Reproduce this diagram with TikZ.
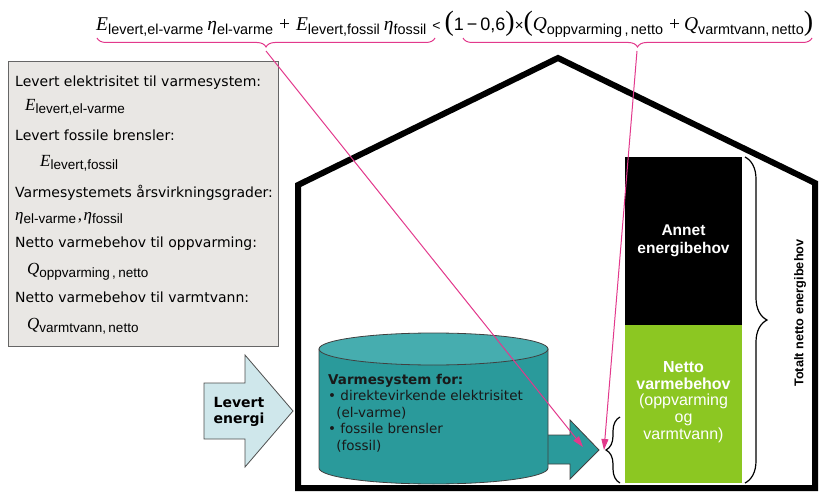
\documentclass[tikz,border=0pt]{standalone}
\usepackage{fontspec}
\setmainfont{Liberation Sans}
\newfontfamily\verd{DejaVu Sans}
\newfontfamily\tms{Liberation Serif}
\usetikzlibrary{arrows.meta,decorations.pathreplacing}
\definecolor{tealside}{HTML}{2A9A9B}
\definecolor{tealtop}{HTML}{46ADAF}
\definecolor{pinkc}{HTML}{E2398C}
\definecolor{greenbox}{HTML}{8CC722}
\definecolor{graybox}{HTML}{E9E7E4}
\definecolor{lightblue}{HTML}{CFE7EB}
\newcommand{\fsz}[2]{\fontsize{#1}{#2}\selectfont}
% formula pieces, top
\newcommand{\tE}{{\tms\itshape\fsz{19.5}{21}E}}
\newcommand{\tQ}{{\tms\itshape\fsz{19.5}{21}Q}}
\newcommand{\teta}{{\tms\itshape\fsz{19.5}{21}η}}
\newcommand{\tsb}[1]{\raisebox{-3.5pt}{\fsz{14.4}{16}#1}}
\newcommand{\gap}{\hspace{6pt}}
% formula pieces, box
\newcommand{\bE}{{\tms\itshape\fsz{17}{18}E}}
\newcommand{\bQ}{{\tms\itshape\fsz{17}{18}Q}}
\newcommand{\bEta}{{\tms\itshape\fsz{17}{18}η}}
\newcommand{\bsb}[1]{\raisebox{-3pt}{\fsz{13.5}{14}#1}}
\tikzset{
  boxtext/.style={anchor=base west, inner sep=0pt, font=\verd\fsz{14}{16}},
  symtext/.style={anchor=base west, inner sep=0pt},
  pinkarrow/.style={draw=pinkc, line width=1pt, -{Triangle[length=11pt,width=7pt]}},
  pinkbrace/.style={draw=pinkc, line width=1pt, decorate, decoration={brace, mirror, amplitude=9pt}},
  blackbrace/.style={draw=black, line width=1.2pt, decorate},
}
\begin{document}
\begin{tikzpicture}[x=1pt,y=-1pt]
\useasboundingbox (0,0) rectangle (819,492);
% house
\draw[line width=6pt, line join=miter] (298,185) -- (558,58) -- (815,183) -- (815,488) -- (298,488) -- cycle;
% formula
\node[symtext] (formula) at (96,31) {\tE\tsb{levert,el-varme}\hspace{4pt}\teta\tsb{el-varme}\gap{\tms\fsz{19.5}{21}+}\gap\tE\tsb{levert,fossil}\hspace{4pt}\teta\tsb{fossil}\gap{\fsz{14}{15}<}\hspace{4pt}{\tms\fsz{28}{28}(}{\fsz{18}{19}1\,−\,0,6}{\tms\fsz{28}{28})}{\fsz{15}{16}×}{\tms\fsz{28}{28}(}\tQ\tsb{oppvarming\,,\,netto}\gap{\tms\fsz{19.5}{21}+}\hspace{4pt}\tQ\tsb{varmtvann,\,netto}{\tms\fsz{28}{28})}};
\coordinate (br1a) at (97,38);
\coordinate (br1b) at (435,38);
\coordinate (br2a) at (463,38);
\coordinate (br2b) at (812,38);
\draw[pinkbrace] (br1a) -- (br1b);
\draw[pinkbrace] (br2a) -- (br2b);
\coordinate (t1) at (266,51);
\coordinate (t2) at (637,51);
% left grey box
\draw[draw=black!60, fill=graybox, line width=1pt] (8,62) rectangle (278,346);
\node[boxtext] (l1) at (15,87) {Levert elektrisitet til varmesystem:};
\node[symtext] (l2) at (25,111) {\bE\bsb{levert,el-varme}};
\node[boxtext] (l3) at (15,140) {Levert fossile brensler:};
\node[symtext] (l4) at (40,166) {\bE\bsb{levert,fossil}};
\node[boxtext] (l5) at (15,197) {Varmesystemets årsvirkningsgrader:};
\node[symtext] (l6) at (15,220) {\bEta\bsb{el-varme}\,{\tms\fsz{17}{18},}\,\bEta\bsb{fossil}};
\node[boxtext] (l7) at (15,247) {Netto varmebehov til oppvarming:};
\node[symtext] (l8) at (27,274) {\bQ\bsb{oppvarming\,,\,netto}};
\node[boxtext] (l9) at (15,302) {Netto varmebehov til varmtvann:};
\node[symtext] (l10) at (27,329) {\bQ\bsb{varmtvann,\,netto}};
% levert energi arrow
\draw[draw=black!70, fill=lightblue, line width=0.8pt, line join=miter]
  (204,383) -- (245,383) -- (245,355) -- (293,411) -- (245,467) -- (245,439) -- (204,439) -- cycle;
\node[font=\verd\bfseries\fsz{14}{16.5}, align=center, inner sep=0pt] (le) at (239,412) {Levert\\energi};
% teal output arrow
\draw[draw=black!75, fill=tealside, line width=0.8pt, line join=miter]
  (540,435) -- (570,435) -- (570,420) -- (599,450) -- (570,479) -- (570,464) -- (540,464);
% cylinder
\draw[draw=black!75, fill=tealside, line width=0.8pt]
  (319,349) -- (319,468) arc[start angle=180, end angle=0, x radius=114.5, y radius=16] -- (548,349) -- cycle;
\draw[draw=black!75, fill=tealtop, line width=0.8pt] (433.5,349) ellipse[x radius=114.5, y radius=16];
\node[anchor=north west, align=left, inner sep=0pt, font=\verd\fsz{13.5}{16.5}, text=black!90] (cyl) at (328,374)
 {\textbf{Varmesystem for:}\\• direktevirkende elektrisitet\\\hspace*{0.6em}(el-varme)\\• fossile brensler\\\hspace*{0.6em}(fossil)};
% boxes
\fill[black] (625,157) rectangle (742,325);
\fill[greenbox] (625,325) rectangle (742,483);
\node[text=white, font=\bfseries\fsz{15.5}{18}, align=center, inner sep=0pt] (annet) at (683.5,241) {Annet\\energibehov};
\node[text=white, font=\fsz{16}{16.7}, align=center, inner sep=0pt] (netto) at (683.5,402) {\textbf{Netto}\\\textbf{varmebehov}\\(oppvarming\\og\\varmtvann)};
% braces
\draw[blackbrace, decoration={brace, amplitude=22pt, aspect=0.5}] (745,157) -- (745,483);
\node[rotate=90, font=\bfseries\fsz{12.7}{14}, inner sep=0pt] (tot) at (800,313) {Totalt netto energibehov};
\draw[blackbrace, decoration={brace, mirror, amplitude=14pt, aspect=0.5}] (620,417) -- (620,483);
\coordinate (bt) at (604,450);
% pink arrows
\draw[pinkarrow] (t1) -- (583,447);
\draw[pinkarrow] (t2) -- (bt);
\end{tikzpicture}
\end{document}
